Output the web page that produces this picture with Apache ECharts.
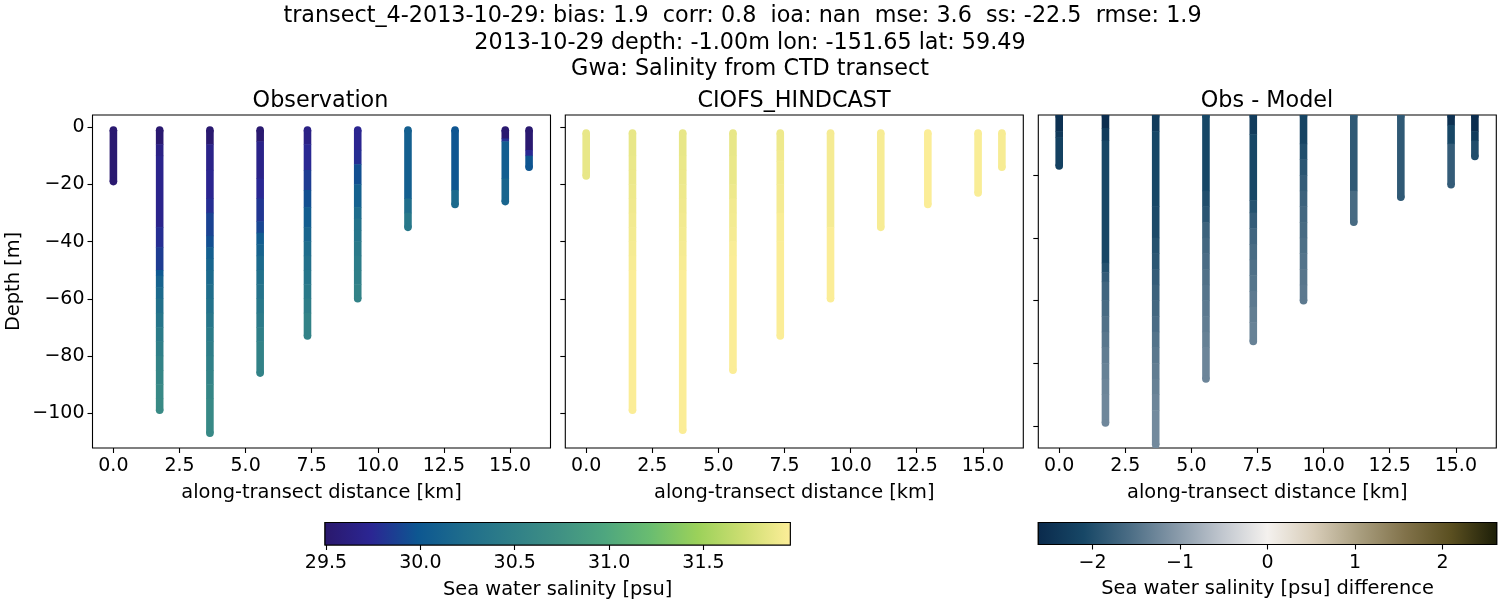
<!DOCTYPE html>
<html><head><meta charset="utf-8">
<style>html,body{margin:0;padding:0;background:#fff}#c{width:1500px;height:600px}</style>
<script src="https://cdn.jsdelivr.net/npm/echarts@6/dist/echarts.min.js"></script>
</head><body><div id="c"></div>
<script>
const distances = [0, 1.75, 3.65, 5.55, 7.34, 9.24, 11.14, 12.92, 14.82, 15.72];

const obsDepths = [
  [-1,-19],
  [-1,-6,-10,-35,-42,-50,-52,-56,-60,-65,-70,-75,-80,-85,-90,-95,-99],
  [-1,-6,-15,-25,-30,-38,-42,-46,-50,-55,-60,-65,-70,-75,-80,-85,-90,-95,-107],
  [-1,-5,-18,-25,-33,-37,-41,-45,-50,-55,-60,-65,-70,-75,-86],
  [-1,-6,-15,-22,-28,-35,-40,-45,-50,-55,-60,-65,-73],
  [-1,-8,-13,-20,-28,-32,-36,-40,-45,-50,-55,-60],
  [-1,-25,-30,-35],
  [-1,-22,-27],
  [-1,-4,-5,-18,-26],
  [-1,-8,-10,-14]
];
const obsSalinity = [
  [29.52],
  [29.52,29.65,29.7,29.78,29.85,30.0,30.12,30.2,30.28,30.35,30.42,30.48,30.54,30.58,30.62,30.64],
  [29.52,29.68,29.72,29.78,29.88,29.95,30.08,30.14,30.2,30.25,30.3,30.36,30.42,30.46,30.5,30.54,30.58,30.62],
  [29.52,29.68,29.75,29.82,29.9,30.05,30.12,30.2,30.27,30.32,30.38,30.43,30.48,30.52],
  [29.65,29.75,29.85,29.95,30.05,30.15,30.22,30.28,30.34,30.4,30.46,30.52],
  [29.72,29.78,29.95,30.1,30.22,30.3,30.35,30.4,30.44,30.48,30.52],
  [30.08,30.25,30.38],
  [29.98,30.2],
  [29.52,29.8,30.05,30.15],
  [29.52,29.75,29.98]
];
const modelDepths = [
  [-2,-17],
  [-2,-10,-15,-20,-25,-30,-35,-40,-45,-50,-99],
  [-2,-10,-15,-20,-25,-30,-35,-40,-45,-50,-106],
  [-2,-10,-20,-25,-30,-35,-40,-45,-85],
  [-2,-8,-12,-20,-30,-40,-73],
  [-2,-35,-60],
  [-2,-35],
  [-2,-27],
  [-2,-23],
  [-2,-14]
];
const modelSalinity = [
  [31.85],
  [31.85,31.86,31.87,31.88,31.89,31.9,31.91,31.92,31.93,31.95],
  [31.85,31.86,31.87,31.88,31.89,31.9,31.91,31.92,31.93,31.95],
  [31.85,31.86,31.88,31.9,31.91,31.92,31.94,31.95],
  [31.88,31.9,31.91,31.92,31.94,31.95],
  [31.92,31.95],
  [31.93],
  [31.95],
  [31.94],
  [31.93]
];
const diffDepths = [
  [-1,-6,-8,-17],
  [-1,-5,-9,-48,-51,-54,-60,-65,-70,-75,-80,-85,-90,-99],
  [-1,-6,-30,-40,-45,-50,-55,-60,-65,-70,-75,-80,-85,-90,-95,-106],
  [-1,-25,-30,-35,-40,-45,-50,-55,-60,-65,-70,-75,-85],
  [-1,-7,-28,-32,-37,-42,-47,-52,-57,-62,-67,-73],
  [-1,-10,-15,-20,-25,-30,-35,-40,-45,-50,-55,-60],
  [-1,-25,-35],
  [-1,-27],
  [-1,-4,-10,-23],
  [-1,-6,-9,-14]
];
const diffValues = [
  [-2.5,-2.35,-2.2],
  [-2.55,-2.3,-2.1,-1.95,-1.8,-1.68,-1.6,-1.52,-1.45,-1.38,-1.32,-1.28,-1.25],
  [-2.3,-2.1,-2.05,-1.95,-1.88,-1.8,-1.72,-1.65,-1.58,-1.5,-1.44,-1.38,-1.33,-1.28,-1.22],
  [-2.1,-2.0,-1.9,-1.72,-1.65,-1.58,-1.52,-1.47,-1.42,-1.38,-1.33,-1.28],
  [-2.3,-2.1,-1.95,-1.8,-1.68,-1.6,-1.54,-1.48,-1.42,-1.37,-1.32],
  [-2.15,-2.0,-1.9,-1.8,-1.72,-1.65,-1.6,-1.55,-1.5,-1.46,-1.42],
  [-1.85,-1.6],
  [-1.85],
  [-2.5,-2.1,-1.8],
  [-2.55,-2.3,-2.0]
];

const xTicks = [0, 2.5, 5, 7.5, 10, 12.5, 15];
const yTicks = [0, -20, -40, -60, -80, -100];
const diffYTicks = [-20, -40, -60, -80, -100];
const salinityTicks = [29.5, 30, 30.5, 31, 31.5];
const diffTicks = [-2, -1, 0, 1, 2];
const salinityRange = [29.495, 31.96];
const diffRange = [-2.62, 2.62];
const halineColors = ['#2a186c','#2b2693','#0d5791','#1f6d8c','#2f7f88','#3f9084','#4ea67f','#6abd70','#9bd15a','#cede72','#fdee99'];
const diffColors = ['#0a2a4c','#174766','#4b6d85','#8698a8','#c0c6ce','#f4f1ee','#d8cdb9','#a99e7f','#81724a','#5a4f20','#1c1e08'];

const FONT = 'DejaVu Sans';
const TICK = 19, NAME = 19.4, TTL = 22.3;
const WIDTH = 7.6;
const minus = s => String(s).replace('-', '\u2212');

function bands(depths, values) {
  const rows = [];
  depths.forEach((d, c) => {
    const n = values[c].length;
    for (let i = 0; i < n; i++) {
      rows.push([distances[c], d[i], d[i + 1], values[c][i], i === 0 ? 1 : 0, i === n - 1 ? 1 : 0]);
    }
  });
  return rows;
}
function renderColumn(params, api) {
  const a = api.coord([api.value(0), api.value(1)]);
  const b = api.coord([api.value(0), api.value(2)]);
  const color = api.visual('color');
  const children = [{ type: 'line', silent: true,
    shape: { x1: a[0], y1: a[1] - 0.25, x2: b[0], y2: b[1] + 0.25 },
    style: { stroke: color, fill: null, lineWidth: WIDTH, lineCap: 'butt' } }];
  if (api.value(4)) children.push({ type: 'circle', silent: true, shape: { cx: a[0], cy: a[1], r: WIDTH / 2 }, style: { fill: color } });
  if (api.value(5)) children.push({ type: 'circle', silent: true, shape: { cx: b[0], cy: b[1], r: WIDTH / 2 }, style: { fill: color } });
  return { type: 'group', children };
}
function renderBar(colors) {
  return function (params, api) {
    const a = api.coord([api.value(0), 1]);
    const b = api.coord([api.value(1), 0]);
    return { type: 'rect', silent: true,
      shape: { x: a[0], y: a[1], width: b[0] - a[0], height: b[1] - a[1] },
      style: { stroke: '#000', lineWidth: 1.1, fill: new echarts.graphic.LinearGradient(0, 0, 1, 0,
        colors.map((c, i) => ({ offset: i / (colors.length - 1), color: c }))) } };
  };
}

const panelLefts = [92.5, 565.3, 1038.3];
const grids = panelLefts.map(l => ({ left: l, top: 115, width: 458, height: 333, show: true,
  backgroundColor: '#fff', borderColor: '#000', borderWidth: 1.1 }));
grids.push({ left: 325, top: 522.5, width: 465.3, height: 22.5, show: true, borderColor: '#000', borderWidth: 1.1 });
grids.push({ left: 1038.3, top: 522.5, width: 458.4, height: 22, show: true, borderColor: '#000', borderWidth: 1.1 });

const noLine = { show: false, onZero: false };
const tickStyle = { length: 5, lineStyle: { color: '#000', width: 1.1 } };
const xAxes = [0, 1, 2].map(i => ({
  type: 'value', gridIndex: i, min: -0.79, max: 16.53,
  name: 'along-transect distance [km]', nameLocation: 'middle', nameGap: 35,
  nameTextStyle: { fontFamily: FONT, fontSize: NAME, color: '#000' },
  axisLine: noLine, splitLine: { show: false },
  axisTick: Object.assign({ customValues: xTicks }, tickStyle),
  axisLabel: { customValues: xTicks, fontFamily: FONT, fontSize: TICK, color: '#000', margin: 9,
    formatter: v => v.toFixed(1) }
}));
xAxes.push({ type: 'value', gridIndex: 3, min: salinityRange[0], max: salinityRange[1],
  name: 'Sea water salinity [psu]', nameLocation: 'middle', nameGap: 35,
  nameTextStyle: { fontFamily: FONT, fontSize: NAME, color: '#000' },
  axisLine: noLine, splitLine: { show: false },
  axisTick: Object.assign({ customValues: salinityTicks }, tickStyle),
  axisLabel: { customValues: salinityTicks, fontFamily: FONT, fontSize: TICK, color: '#000', margin: 9,
    formatter: v => v.toFixed(1) } });
xAxes.push({ type: 'value', gridIndex: 4, min: diffRange[0], max: diffRange[1],
  name: 'Sea water salinity [psu] difference', nameLocation: 'middle', nameGap: 35,
  nameTextStyle: { fontFamily: FONT, fontSize: NAME, color: '#000' },
  axisLine: noLine, splitLine: { show: false },
  axisTick: Object.assign({ customValues: diffTicks }, tickStyle),
  axisLabel: { customValues: diffTicks, fontFamily: FONT, fontSize: TICK, color: '#000', margin: 9,
    formatter: v => minus(v) } });

const yBase = { type: 'value', axisLine: noLine, splitLine: { show: false } };
const yAxes = [
  Object.assign({}, yBase, { gridIndex: 0, min: -112.2, max: 4.3, name: 'Depth [m]', nameLocation: 'middle', nameGap: 69,
    nameTextStyle: { fontFamily: FONT, fontSize: NAME, color: '#000' },
    axisTick: Object.assign({ customValues: yTicks }, tickStyle),
    axisLabel: { customValues: yTicks, fontFamily: FONT, fontSize: TICK, color: '#000', margin: 8, padding: [3, 0, 0, 0], formatter: v => minus(v) } }),
  Object.assign({}, yBase, { gridIndex: 1, min: -112.2, max: 4.3,
    axisTick: Object.assign({ customValues: yTicks }, tickStyle), axisLabel: { show: false } }),
  Object.assign({}, yBase, { gridIndex: 2, min: -107, max: -0.77,
    axisTick: Object.assign({ customValues: diffYTicks }, tickStyle), axisLabel: { show: false } }),
  Object.assign({}, yBase, { gridIndex: 3, min: 0, max: 1, show: false }),
  Object.assign({}, yBase, { gridIndex: 4, min: 0, max: 1, show: false })
];

const columnSeries = (i, rows) => ({ type: 'custom', xAxisIndex: i, yAxisIndex: i, clip: true, silent: true,
  animation: false, renderItem: renderColumn, encode: { x: 0, y: [1, 2] }, data: rows });

const titleAt = (text, left, top, size) => ({ text, left, top, textAlign: 'center',
  textStyle: { fontFamily: FONT, fontSize: size, fontWeight: 'normal', color: '#000' } });

const option = {
  animation: false,
  backgroundColor: '#fff',
  title: [
    titleAt('transect_4-2013-10-29: bias: 1.9  corr: 0.8  ioa: nan  mse: 3.6  ss: -22.5  rmse: 1.9', 737.5, 0, TTL),
    titleAt('2013-10-29 depth: -1.00m lon: -151.65 lat: 59.49', 745, 27, TTL),
    titleAt('Gwa: Salinity from CTD transect', 745, 53, TTL),
    titleAt('Observation', 315.5, 85, TTL),
    titleAt('CIOFS_HINDCAST', 789, 85, TTL),
    titleAt('Obs - Model', 1262, 85, TTL)
  ],
  grid: grids, xAxis: xAxes, yAxis: yAxes,
  visualMap: [
    { show: false, type: 'continuous', seriesIndex: [0, 1], dimension: 3, min: salinityRange[0], max: salinityRange[1], inRange: { color: halineColors } },
    { show: false, type: 'continuous', seriesIndex: [2], dimension: 3, min: diffRange[0], max: diffRange[1], inRange: { color: diffColors } }
  ],
  series: [
    columnSeries(0, bands(obsDepths, obsSalinity)),
    columnSeries(1, bands(modelDepths, modelSalinity)),
    columnSeries(2, bands(diffDepths, diffValues)),
    { type: 'custom', xAxisIndex: 3, yAxisIndex: 3, silent: true, renderItem: renderBar(halineColors), encode: { x: [0, 1] }, data: [salinityRange] },
    { type: 'custom', xAxisIndex: 4, yAxisIndex: 4, silent: true, renderItem: renderBar(diffColors), encode: { x: [0, 1] }, data: [diffRange] }
  ]
};
echarts.init(document.getElementById('c'), null, { renderer: 'canvas' }).setOption(option);
</script></body></html>
